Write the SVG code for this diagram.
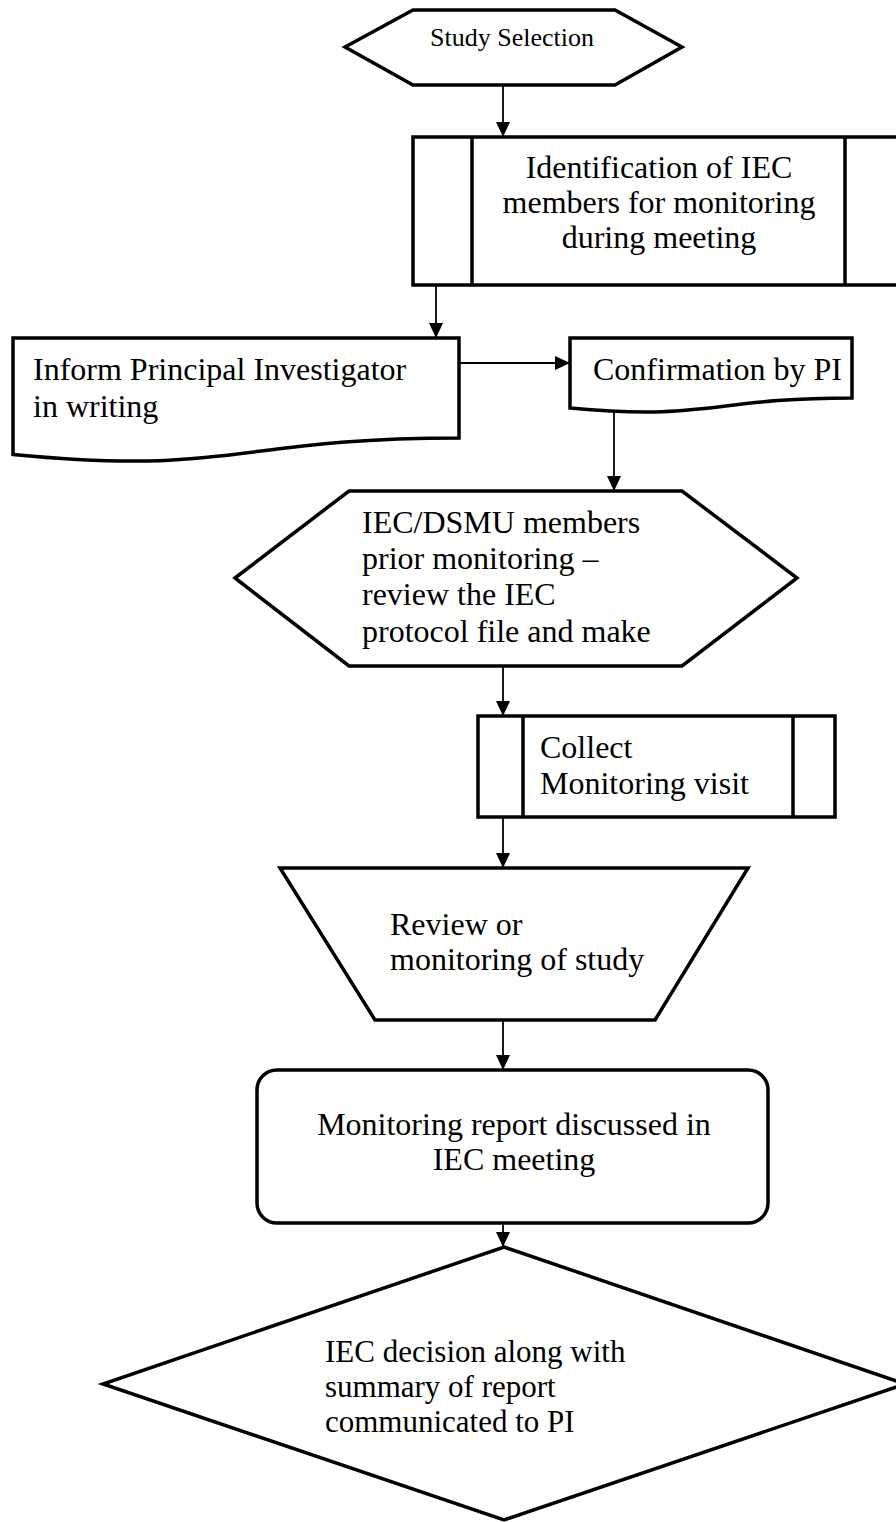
<svg xmlns="http://www.w3.org/2000/svg" width="896" height="1522" viewBox="0 0 896 1522">
  <defs>
    <marker id="arrow" markerUnits="userSpaceOnUse" markerWidth="16" markerHeight="16" refX="15" refY="7.5" orient="auto">
      <path d="M0,0.5 L15,7.5 L0,14.5 z" fill="#000"/>
    </marker>
    <style>
      .shape { fill: #fff; stroke: #000; stroke-width: 3.5; stroke-linejoin: miter; }
      .divider { fill: none; stroke: #000; stroke-width: 3.5; }
      .conn { fill: none; stroke: #000; stroke-width: 1.8; marker-end: url(#arrow); }
      .label { font-family: 'Liberation Serif', 'Times New Roman', serif; font-size: 32px; fill: #000; }
      .small { font-size: 26px; }
      .dec { font-size: 31px; }
      .mid { text-anchor: middle; }
    </style>
  </defs>

  <rect x="0" y="0" width="896" height="1522" fill="#fff"/>

  <g id="connectors">
    <line class="conn" x1="503" y1="85" x2="503" y2="137"/>
    <line class="conn" x1="436" y1="285" x2="436" y2="338"/>
    <line class="conn" x1="459" y1="363" x2="570" y2="363"/>
    <line class="conn" x1="614" y1="409" x2="614" y2="491"/>
    <line class="conn" x1="503" y1="666" x2="503" y2="716"/>
    <line class="conn" x1="503" y1="817" x2="503" y2="868"/>
    <line class="conn" x1="503" y1="1020" x2="503" y2="1070"/>
    <line class="conn" x1="503" y1="1223" x2="503" y2="1247"/>
  </g>

  <!-- preparation hexagon: start -->
  <g id="study-selection">
    <polygon class="shape" points="345,47 413,10 615,10 682,47 615,85 413,85"/>
    <text class="label small mid" x="512" y="46">Study Selection</text>
  </g>

  <!-- predefined process: identify members -->
  <g id="identify-members">
    <rect class="shape" x="413" y="137" width="490" height="148"/>
    <line class="divider" x1="472" y1="137" x2="472" y2="285"/>
    <line class="divider" x1="845" y1="137" x2="845" y2="285"/>
    <text class="label mid" x="659" y="178">Identification of IEC</text>
    <text class="label mid" x="659" y="213">members for monitoring</text>
    <text class="label mid" x="659" y="248">during meeting</text>
  </g>

  <!-- document: inform PI -->
  <g id="inform-pi">
    <path class="shape" d="M13,338 H459 V438 C236,438 236,476 13,454.5 Z"/>
    <text class="label" x="33" y="380">Inform Principal Investigator</text>
    <text class="label" x="33" y="417">in writing</text>
  </g>

  <!-- document: confirmation -->
  <g id="confirmation">
    <path class="shape" d="M570,338 H852 V398 C711,398 711,421 570,408 Z"/>
    <text class="label" x="593" y="380">Confirmation by PI</text>
  </g>

  <!-- preparation hexagon: prior review -->
  <g id="prior-review">
    <polygon class="shape" points="235,578 349,491 682,491 797,578 682,666 349,666"/>
    <text class="label" x="362" y="533">IEC/DSMU members</text>
    <text class="label" x="362" y="569">prior monitoring –</text>
    <text class="label" x="362" y="605">review the IEC</text>
    <text class="label" x="362" y="642">protocol file and make</text>
  </g>

  <!-- predefined process: collect visit -->
  <g id="collect-visit">
    <rect class="shape" x="478" y="716" width="357" height="101"/>
    <line class="divider" x1="523" y1="716" x2="523" y2="817"/>
    <line class="divider" x1="793" y1="716" x2="793" y2="817"/>
    <text class="label" x="540" y="758">Collect</text>
    <text class="label" x="540" y="794">Monitoring visit</text>
  </g>

  <!-- manual operation trapezoid -->
  <g id="review-study">
    <polygon class="shape" points="280,868 748,868 655,1020 375,1020"/>
    <text class="label" x="390" y="935">Review or</text>
    <text class="label" x="390" y="970">monitoring of study</text>
  </g>

  <!-- rounded process box -->
  <g id="report-discussed">
    <rect class="shape" x="257" y="1070" width="511" height="153" rx="20" ry="20"/>
    <text class="label mid" x="514" y="1135">Monitoring report discussed in</text>
    <text class="label mid" x="514" y="1170">IEC meeting</text>
  </g>

  <!-- decision diamond -->
  <g id="iec-decision">
    <polygon class="shape" points="504,1247 905,1384 504,1520 103,1384"/>
    <text class="label dec" x="325" y="1362">IEC decision along with</text>
    <text class="label dec" x="325" y="1397">summary of report</text>
    <text class="label dec" x="325" y="1432">communicated to PI</text>
  </g>
</svg>
